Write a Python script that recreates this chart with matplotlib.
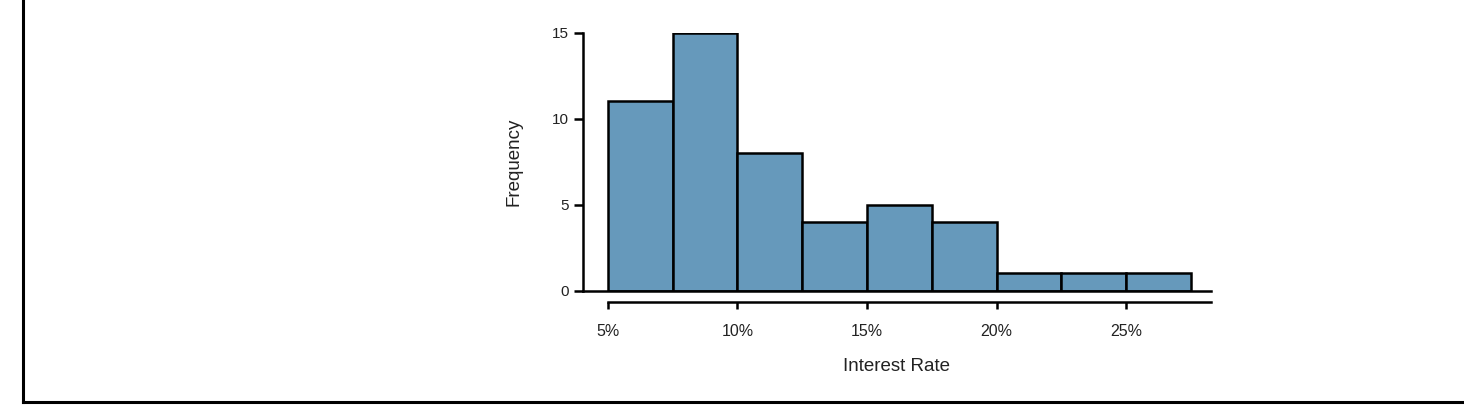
import matplotlib
matplotlib.use("Agg")
import matplotlib.pyplot as plt
from matplotlib.lines import Line2D

# Histogram of interest rates (bins of 2.5 %)
bin_edges = [5.0, 7.5, 10.0, 12.5, 15.0, 17.5, 20.0, 22.5, 25.0, 27.5]
counts = [11, 15, 8, 4, 5, 4, 1, 1, 1]
x_ticks = [5, 10, 15, 20, 25]
x_tick_labels = ["5%", "10%", "15%", "20%", "25%"]
y_ticks = [0, 5, 10, 15]

plt.rcParams["font.family"] = ["Liberation Sans", "DejaVu Sans"]

fig = plt.figure(figsize=(14.64, 4.12), dpi=100)
ax = fig.add_axes([0.3982, 0.2944, 0.4290, 0.6267])

widths = [b - a for a, b in zip(bin_edges[:-1], bin_edges[1:])]
ax.bar(
    bin_edges[:-1],
    counts,
    width=widths,
    align="edge",
    color="#6699BB",
    edgecolor="black",
    linewidth=1.8,
    zorder=2,
)
# baseline across the whole axis range
ax.axhline(0, color="black", linewidth=1.8, zorder=3, clip_on=False)

ax.set_xlim(4.035, 28.28)
ax.set_ylim(0, 15)

for side in ["top", "right"]:
    ax.spines[side].set_visible(False)
ax.spines["left"].set_bounds(0, 15)
ax.spines["left"].set_linewidth(1.8)
ax.spines["bottom"].set_position(("outward", 8))
ax.spines["bottom"].set_bounds(5, 28.28)
ax.spines["bottom"].set_linewidth(1.8)

ax.set_xticks(x_ticks)
ax.set_xticklabels(x_tick_labels)
ax.set_yticks(y_ticks)
ax.tick_params(axis="y", length=6.5, width=1.8, pad=4, labelsize=11, labelcolor="#222222")
ax.tick_params(axis="x", length=5, width=1.8, pad=11, labelsize=11.5, labelcolor="#222222")

ax.set_xlabel("Interest Rate", fontsize=13.5, color="#222222")
ax.set_ylabel("Frequency", fontsize=13.5, color="#222222")
ax.xaxis.set_label_coords(0.5, -0.262)
ax.yaxis.set_label_coords(-0.097, 0.5)

# frame lines (left and bottom only)
fig.add_artist(Line2D([0.01537, 0.01537], [0.0243, 1.0], transform=fig.transFigure,
                      color="black", linewidth=2.2, solid_capstyle="projecting"))
fig.add_artist(Line2D([0.01537, 1.0], [0.0243, 0.0243], transform=fig.transFigure,
                      color="black", linewidth=2.2, solid_capstyle="projecting"))

fig.savefig("out.png", dpi=100)
